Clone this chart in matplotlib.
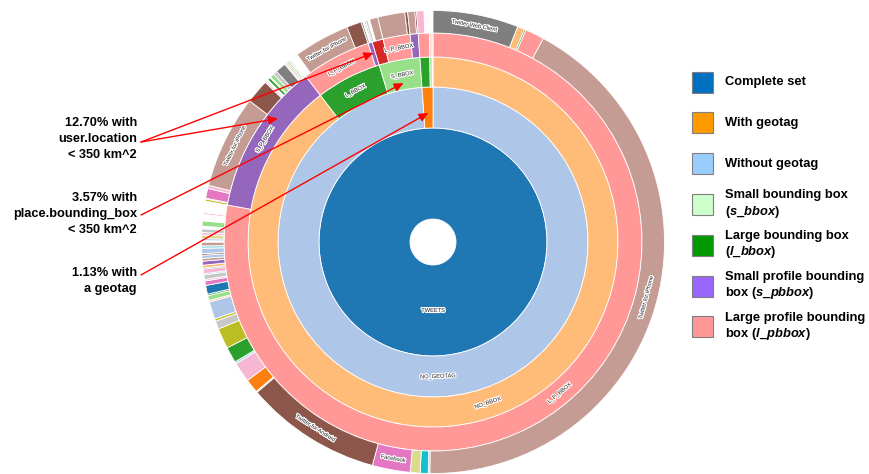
import numpy as np
import matplotlib
matplotlib.use('Agg')
import matplotlib.pyplot as plt
from matplotlib.patches import Wedge, Rectangle
import matplotlib.patheffects as pe

plt.rcParams['font.family'] = ['Liberation Sans', 'DejaVu Sans']
plt.rcParams['mathtext.fontset'] = 'custom'
plt.rcParams['mathtext.it'] = 'Liberation Sans:italic:bold'
plt.rcParams['mathtext.rm'] = 'Liberation Sans:bold'

# ---------------- data (percent of all tweets) ----------------
ring1_names = ['TWEETS']
ring1_values = [100.0]
ring1_parent = [None]

ring2_names = ['NO_GEOTAG', 'GEOTAG']
ring2_values = [98.87, 1.13]
ring2_parent = [0, 0]

ring3_names = ['NO_BBOX', 'L_BBOX', 'S_BBOX', 'L_BBOX', 'S_BBOX', 'NO_BBOX']
ring3_values = [89.58, 5.72, 3.57, 0.85, 0.20, 0.08]
ring3_parent = [0, 0, 0, 1, 1, 1]

ring4_names = ['L_P_BBOX', 'S_P_BBOX', 'L_P_BBOX', 'S_P_BBOX', 'NO_P_BBOX', 'L_P_BBOX',
               'S_P_BBOX', 'L_P_BBOX', 'L_P_BBOX', 'NO_P_BBOX', 'L_P_BBOX']
ring4_values = [77.83, 11.75, 5.39, 0.33, 0.86, 2.09, 0.62, 0.85, 0.12, 0.08, 0.08]
ring4_parent = [0, 0, 1, 1, 2, 2, 2, 3, 4, 4, 5]

node_colors = {'TWEETS': '#1f77b4', 'NO_GEOTAG': '#aec7e8', 'GEOTAG': '#ff7f0e',
               'NO_BBOX': '#ffbb78', 'L_BBOX': '#2ca02c', 'S_BBOX': '#98df8a',
               'NO_P_BBOX': '#d62728', 'L_P_BBOX': '#ff9896', 'S_P_BBOX': '#9467bd'}

# ring 5: tweet sources, grouped by the ring-4 node they belong to ('' = empty part)
src0_names = ['Twitter Web Client', 'other', 'other', 'other', 'Twitter for iPhone', 'other', 'other',
              'other', 'Facebook', 'Twitter for Android', 'other', 'other', 'other', 'other', 'other',
              'other', 'other', 'other', 'other', 'other', 'other', 'other', 'other', 'other', 'other',
              'other', 'other', 'other', 'other', 'other', 'other', 'other', 'other', 'other', 'other',
              'other', 'other', '', 'other', 'other', 'other', 'other', '', 'other', '', 'other']
src0_values = [5.97, 0.50, 0.11, 1.33, 42.31, 0.11, 0.56,
               0.69, 2.64, 9.53, 0.08, 0.97, 1.39, 0.14, 1.11,
               1.44, 0.56, 0.17, 1.22, 0.11, 0.33, 0.11, 0.61, 0.31, 0.11,
               0.31, 0.08, 0.33, 0.08, 0.19, 0.28, 0.19, 0.22, 0.11, 0.36,
               0.17, 0.25, 0.11, 0.14, 0.25, 0.17, 0.25, 0.19, 0.36, 0.47, 0.11]
src0_colors = ['#7f7f7f', '#ffbb78', '#2ca02c', '#ff9896', '#c49c94', '#9edae5', '#17becf',
               '#dbdb8d', '#e377c2', '#8c564b', '#c7c7c7', '#ff7f0e', '#f7b6d2', '#9edae5', '#2ca02c',
               '#bcbd22', '#c7c7c7', '#bcbd22', '#aec7e8', '#ffbb78', '#98df8a', '#2ca02c', '#1f77b4',
               '#e377c2', '#f7b6d2', '#c7c7c7', '#17becf', '#f7b6d2', '#1f77b4', '#ffbb78', '#9467bd',
               '#c49c94', '#aec7e8', '#8c564b', '#aec7e8', '#9edae5', '#c49c94', None, '#aec7e8',
               '#dbdb8d', '#f7b6d2', '#c7c7c7', None, '#98df8a', None, '#f7b6d2']

src1_names = ['other', '', 'other', 'other', 'Twitter for iPhone', 'Twitter for Android', 'other', '',
              'other', '', 'other', 'other', 'Twitter Web Client', 'other', 'other', 'other', 'other',
              '', 'other']
src1_values = [0.14, 0.06, 0.69, 0.22, 6.50, 1.67, 0.11, 0.14,
               0.19, 0.08, 0.28, 0.28, 0.75, 0.08, 0.11, 0.08, 0.11,
               0.06, 0.08]
src1_colors = ['#bcbd22', None, '#e377c2', '#f7b6d2', '#c49c94', '#8c564b', '#f7b6d2', None,
               '#2ca02c', None, '#98df8a', '#c7c7c7', '#7f7f7f', '#c7c7c7', '#ffbb78', '#1f77b4',
               '#98df8a', None, '#c7c7c7']

src2_names = ['', 'Twitter for iPhone', 'Twitter for Android']
src2_values = [0.44, 3.92, 1.03]
src2_colors = [None, '#c49c94', '#8c564b']

src3_names = ['Twitter Web Client', '', 'other']
src3_values = [0.11, 0.11, 0.11]
src3_colors = ['#7f7f7f', None, '#c7c7c7']

src4_names = ['other', '', 'Twitter for iPhone']
src4_values = [0.14, 0.14, 0.58]
src4_colors = ['#c7c7c7', None, '#c49c94']

src5_names = ['Twitter for iPhone', 'Twitter for Android']
src5_values = [1.89, 0.20]
src5_colors = ['#c49c94', '#8c564b']

src6_names = ['Twitter for iPhone', 'Twitter for Android']
src6_values = [0.50, 0.12]
src6_colors = ['#c49c94', '#8c564b']

src7_names = ['other', '', 'other', '', 'other']
src7_values = [0.50, 0.10, 0.05, 0.10, 0.04]
src7_colors = ['#f7b6d2', None, '#f7b6d2', None, '#e377c2']

src_groups = [(0, src0_names, src0_values, src0_colors), (1, src1_names, src1_values, src1_colors),
              (2, src2_names, src2_values, src2_colors), (3, src3_names, src3_values, src3_colors),
              (4, src4_names, src4_values, src4_colors), (5, src5_names, src5_values, src5_colors),
              (6, src6_names, src6_values, src6_colors), (7, src7_names, src7_values, src7_colors)]

legend_labels = ['Complete set', 'With geotag', 'Without geotag',
                 'Small bounding box\n($\\mathit{s\\_bbox}$)',
                 'Large bounding box\n($\\mathit{l\\_bbox}$)',
                 'Small profile bounding\nbox ($\\mathit{s\\_pbbox}$)',
                 'Large profile bounding\nbox ($\\mathit{l\\_pbbox}$)']
legend_colors = ['#0070c0', '#ff9900', '#99ccff', '#ccffcc', '#009900', '#9966ff', '#ff9999']

annot_texts = ['12.70% with\nuser.location\n< 350 km^2',
               '3.57% with\nplace.bounding_box\n< 350 km^2',
               '1.13% with\na geotag']

# ---------------- layout ----------------
CX, CY = 433, 242
RADII = [23, 114, 155, 185, 209, 231.5]

fig = plt.figure(figsize=(8.7, 4.74), dpi=100)
ax = fig.add_axes([0, 0, 1, 1])
ax.set_xlim(0, 870)
ax.set_ylim(474, 0)
ax.axis('off')


def layout(values, parents, parent_spans):
    spans, cursor = [], {}
    for v, p in zip(values, parents):
        start = 0.0 if p is None else cursor.get(p, parent_spans[p][0])
        spans.append((start, start + v))
        cursor[p] = start + v
    return spans


def polar(phi, r):
    a = np.deg2rad(phi)
    return CX + r * np.sin(a), CY - r * np.cos(a)


def draw_ring(level, names, spans, colors):
    r0, r1 = RADII[level - 1], RADII[level]
    for name, (s, e), col in zip(names, spans, colors):
        if col is None:
            continue
        p1, p2 = s * 3.6, e * 3.6
        ax.add_patch(Wedge((CX, CY), r1, p1 - 90, p2 - 90, width=r1 - r0,
                           facecolor=col, edgecolor='white', linewidth=0.6))
        if not name or name == 'other':
            continue
        rm = (r0 + r1) / 2
        arc = np.deg2rad(p2 - p1) * rm
        if arc < len(name) * 2.8:
            continue
        pm = (p1 + p2) / 2
        x, y = polar(pm, rm)
        rot = (-pm) % 360
        if 90 < rot <= 270:
            rot -= 180
        elif rot > 270:
            rot -= 360
        ax.text(x, y, name, fontsize=4.1, color='#222222', ha='center', va='center',
                rotation=rot, rotation_mode='anchor',
                path_effects=[pe.withStroke(linewidth=1.6, foreground='white')], zorder=5)


s1 = layout(ring1_values, ring1_parent, None)
s2 = layout(ring2_values, ring2_parent, s1)
s3 = layout(ring3_values, ring3_parent, s2)
s4 = layout(ring4_values, ring4_parent, s3)

draw_ring(1, ring1_names, s1, [node_colors[n] for n in ring1_names])
draw_ring(2, ring2_names, s2, [node_colors[n] for n in ring2_names])
draw_ring(3, ring3_names, s3, [node_colors[n] for n in ring3_names])
draw_ring(4, ring4_names, s4, [node_colors[n] for n in ring4_names])

for parent, names, values, colors in src_groups:
    sp = layout(values, [parent] * len(values), s4)
    draw_ring(5, names, sp, colors)

# ---------------- left annotations ----------------
all_spans = {2: s2, 3: s3, 4: s4}
annot_y = [139, 214, 281]
annot_start = [(141, 142), (141, 215), (141, 275)]
annot_targets = [[(4, 3, 0.5, 0.55), (4, 1, 0.67, 0.55)],
                 [(3, 2, 0.5, 0.22)],
                 [(2, 1, 0.5, 0.37)]]
for txt, yc, st, tg in zip(annot_texts, annot_y, annot_start, annot_targets):
    ax.text(137, yc, txt, ha='right', va='center', fontsize=9.2, fontweight='bold',
            linespacing=1.42, color='black')
    for lvl, idx, fa, fr in tg:
        s, e = all_spans[lvl][idx]
        phi = (s + fa * (e - s)) * 3.6
        r = RADII[lvl - 1] + fr * (RADII[lvl] - RADII[lvl - 1])
        ax.annotate('', xy=polar(phi, r), xytext=st,
                    arrowprops=dict(arrowstyle='-|>,head_length=0.55,head_width=0.25',
                                    mutation_scale=10, color='red', lw=1.0,
                                    shrinkA=0, shrinkB=0), zorder=6)

# ---------------- legend ----------------
for i, (lab, col) in enumerate(zip(legend_labels, legend_colors)):
    yc = 82 + 40.8 * i
    ax.add_patch(Rectangle((692, yc - 10.5), 21, 21, facecolor=col, edgecolor='#7f7f7f', lw=0.8))
    ax.text(725.5, yc, lab, ha='left', va='center', fontsize=9.3, fontweight='bold',
            linespacing=1.2, color='black')

fig.savefig('out.png', dpi=100)
